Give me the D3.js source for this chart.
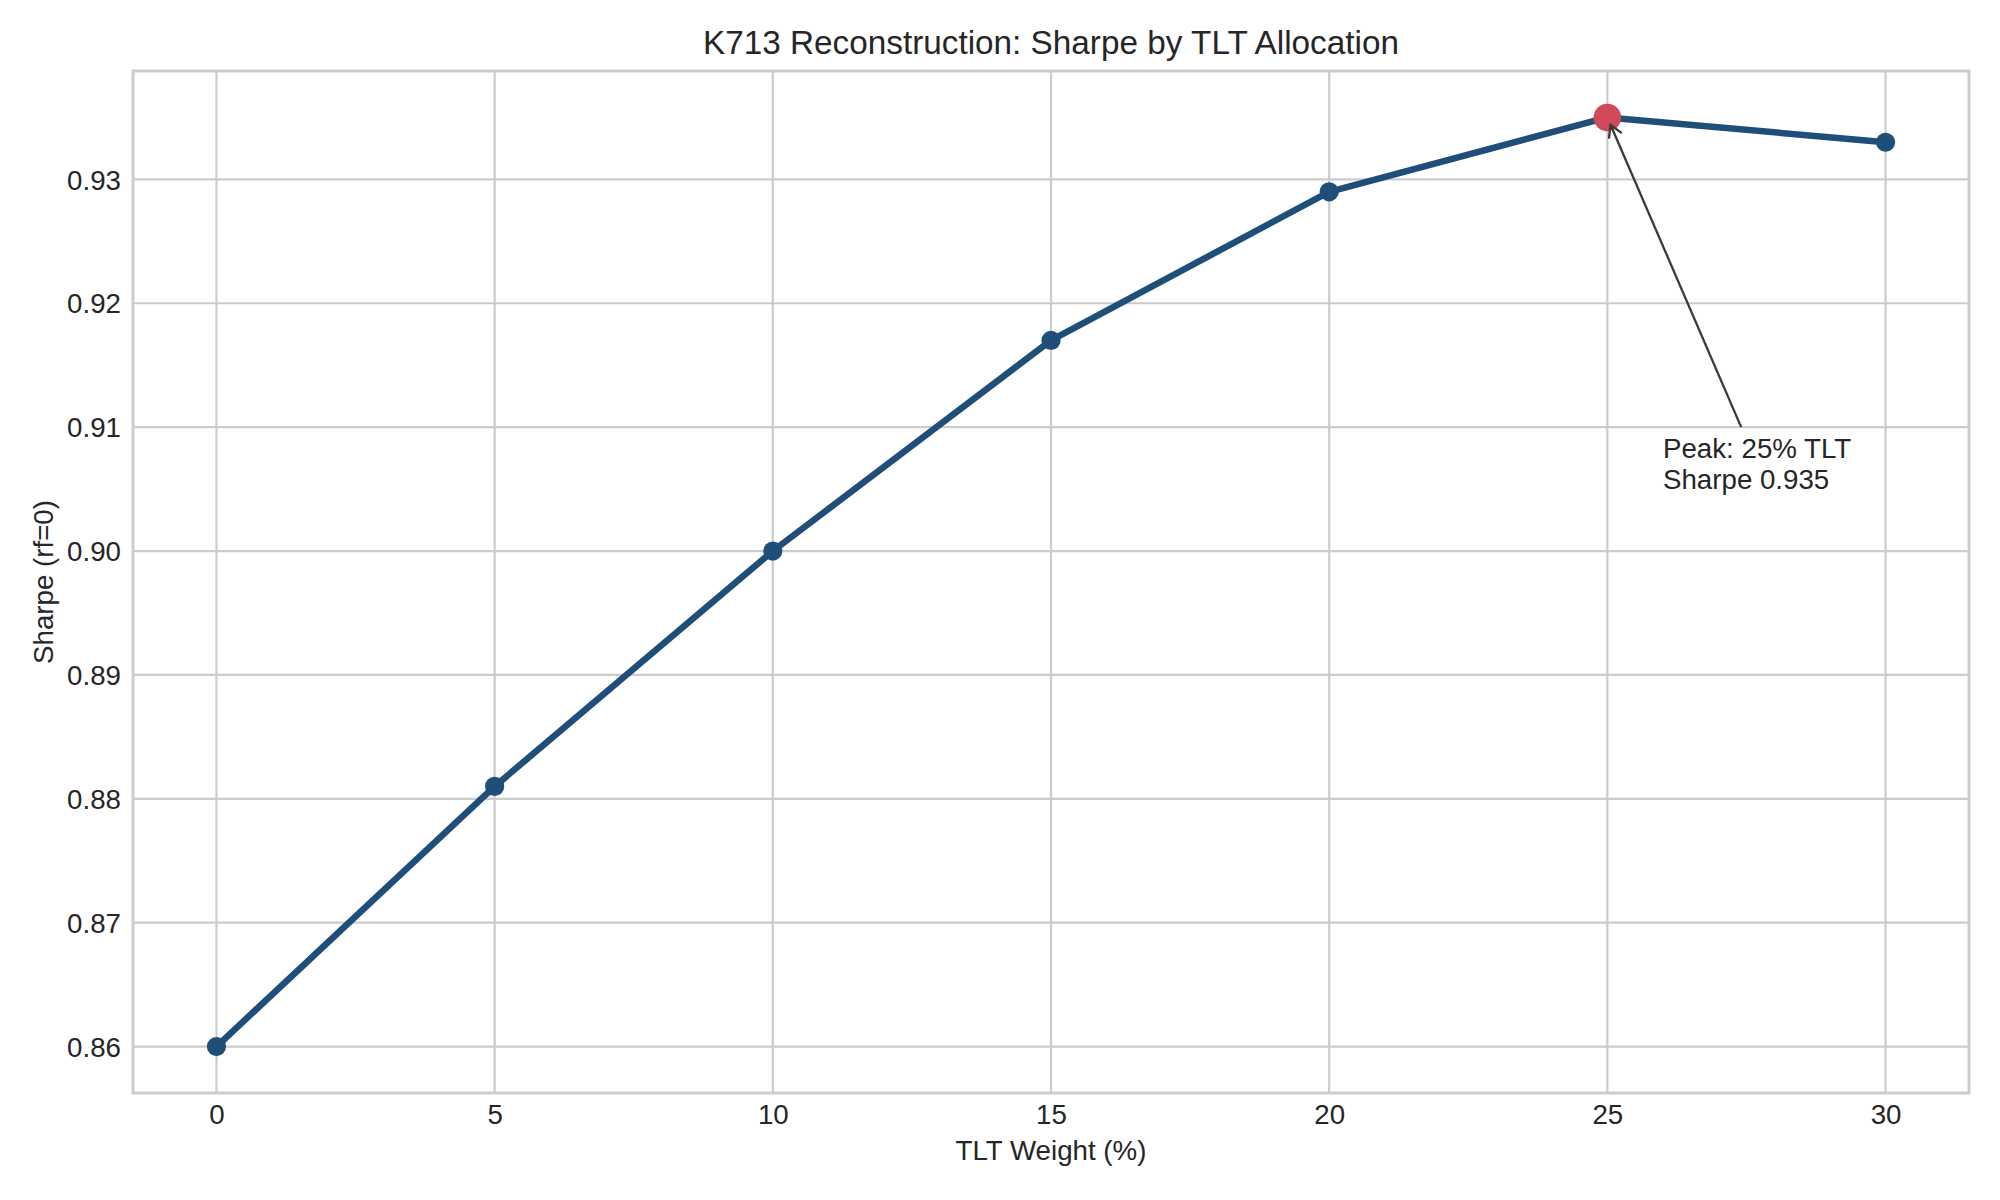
<!DOCTYPE html>
<html>
<head>
<meta charset="utf-8">
<script src="https://cdn.jsdelivr.net/npm/d3@7"></script>
<style>
  html, body { margin: 0; padding: 0; background: #ffffff; }
  svg { display: block; }
  text { font-family: "Liberation Sans", Arial, "Helvetica", sans-serif; fill: #262626; }
</style>
</head>
<body>
<svg id="chart" width="2000" height="1200"></svg>
<script>
// ---- data ----
const tltWeights = [0, 5, 10, 15, 20, 25, 30];
const sharpeValues = [0.860, 0.881, 0.900, 0.917, 0.929, 0.935, 0.933];
const xTicks = [0, 5, 10, 15, 20, 25, 30];
const yTicks = [0.86, 0.87, 0.88, 0.89, 0.90, 0.91, 0.92, 0.93];
const titleText = "K713 Reconstruction: Sharpe by TLT Allocation";
const xLabelText = "TLT Weight (%)";
const yLabelText = "Sharpe (rf=0)";
const annotationLines = ["Peak: 25% TLT", "Sharpe 0.935"];
const annotationTextPos = [26, 0.905];

// ---- layout ----
const W = 2000, H = 1200;
const M = { left: 133, right: 31, top: 71, bottom: 107 };
const plotW = W - M.left - M.right;
const plotH = H - M.top - M.bottom;
const FS = 27.7;

const svg = d3.select("#chart");
svg.append("rect").attr("width", W).attr("height", H).attr("fill", "#ffffff");

const xMin = d3.min(tltWeights), xMax = d3.max(tltWeights);
const yMin = d3.min(sharpeValues), yMax = d3.max(sharpeValues);
const xPad = (xMax - xMin) * 0.05, yPad = (yMax - yMin) * 0.05;

const x = d3.scaleLinear().domain([xMin - xPad, xMax + xPad]).range([M.left, M.left + plotW]);
const y = d3.scaleLinear().domain([yMin - yPad, yMax + yPad]).range([M.top + plotH, M.top]);

const gridColor = "#cccccc";

// grid
const g = svg.append("g");
g.selectAll("line.vg").data(xTicks).enter().append("line")
  .attr("x1", d => x(d)).attr("x2", d => x(d))
  .attr("y1", M.top).attr("y2", M.top + plotH)
  .attr("stroke", gridColor).attr("stroke-width", 2.2);
g.selectAll("line.hg").data(yTicks).enter().append("line")
  .attr("y1", d => y(d)).attr("y2", d => y(d))
  .attr("x1", M.left).attr("x2", M.left + plotW)
  .attr("stroke", gridColor).attr("stroke-width", 2.2);

// axes (tick labels via d3 axes)
const xAxis = d3.axisBottom(x).tickValues(xTicks).tickSize(0).tickPadding(10).tickFormat(d3.format("d"));
const yAxis = d3.axisLeft(y).tickValues(yTicks).tickSize(0).tickPadding(12).tickFormat(d3.format(".2f"));

const gx = svg.append("g").attr("transform", `translate(0,${M.top + plotH})`).call(xAxis);
gx.select(".domain").remove();
gx.selectAll("text").attr("font-size", FS).attr("fill", "#262626")
  .attr("font-family", '"Liberation Sans", Arial, sans-serif').attr("dy", "0.75em");

const gy = svg.append("g").attr("transform", `translate(${M.left},0)`).call(yAxis);
gy.select(".domain").remove();
gy.selectAll("text").attr("font-size", FS).attr("fill", "#262626")
  .attr("font-family", '"Liberation Sans", Arial, sans-serif').attr("dy", "0.35em");

// frame
svg.append("rect")
  .attr("x", M.left).attr("y", M.top).attr("width", plotW).attr("height", plotH)
  .attr("fill", "none").attr("stroke", gridColor).attr("stroke-width", 3);

// line
const pts = tltWeights.map((w, i) => ({ w, s: sharpeValues[i] }));
const line = d3.line().x(d => x(d.w)).y(d => y(d.s));
svg.append("path").datum(pts)
  .attr("d", line).attr("fill", "none")
  .attr("stroke", "#1f4e79").attr("stroke-width", 6.5)
  .attr("stroke-linejoin", "round").attr("stroke-linecap", "butt");

svg.selectAll("circle.pt").data(pts).enter().append("circle")
  .attr("cx", d => x(d.w)).attr("cy", d => y(d.s)).attr("r", 9.6)
  .attr("fill", "#1f4e79");

// peak
const peakIdx = d3.maxIndex(sharpeValues);
const peak = pts[peakIdx];
svg.append("circle")
  .attr("cx", x(peak.w)).attr("cy", y(peak.s)).attr("r", 13.8)
  .attr("fill", "#d1495b");

// annotation text
const ann = svg.append("text")
  .attr("x", x(annotationTextPos[0]))
  .attr("y", y(annotationTextPos[1]))
  .attr("font-size", FS);
annotationLines.forEach((t, i) => {
  ann.append("tspan").attr("x", x(annotationTextPos[0]))
    .attr("dy", i === 0 ? -31 : 31).text(t);
});

// annotation arrow from text bbox to peak
const bb = ann.node().getBBox();
const cx = bb.x + bb.width / 2, cy = bb.y + bb.height / 2;
const px = x(peak.w), py = y(peak.s);
const topY = bb.y - 6;
const tEdge = (cy - topY) / (cy - py);
const sx = cx + (px - cx) * tEdge, sy = topY;
const dx = px - sx, dy = py - sy;
const len = Math.hypot(dx, dy);
const ux = dx / len, uy = dy / len;
const shrink = 8;
const ex = px - ux * shrink, ey = py - uy * shrink;
svg.append("line")
  .attr("x1", sx).attr("y1", sy).attr("x2", ex).attr("y2", ey)
  .attr("stroke", "#3a3a3a").attr("stroke-width", 2.3);
const headLen = 14, ang = Math.PI / 6;
const back = Math.atan2(-uy, -ux);
const h1 = [ex + headLen * Math.cos(back + ang), ey + headLen * Math.sin(back + ang)];
const h2 = [ex + headLen * Math.cos(back - ang), ey + headLen * Math.sin(back - ang)];
svg.append("path")
  .attr("d", `M${h1[0]},${h1[1]} L${ex},${ey} L${h2[0]},${h2[1]}`)
  .attr("fill", "none").attr("stroke", "#3a3a3a").attr("stroke-width", 2.3);

// title & labels
svg.append("text")
  .attr("x", M.left + plotW / 2).attr("y", 54)
  .attr("text-anchor", "middle").attr("font-size", 33.3)
  .text(titleText);

svg.append("text")
  .attr("x", M.left + plotW / 2).attr("y", 1160)
  .attr("text-anchor", "middle").attr("font-size", FS)
  .text(xLabelText);

svg.append("text")
  .attr("transform", `translate(53,${M.top + plotH / 2}) rotate(-90)`)
  .attr("text-anchor", "middle").attr("font-size", FS)
  .text(yLabelText);
</script>
</body>
</html>
